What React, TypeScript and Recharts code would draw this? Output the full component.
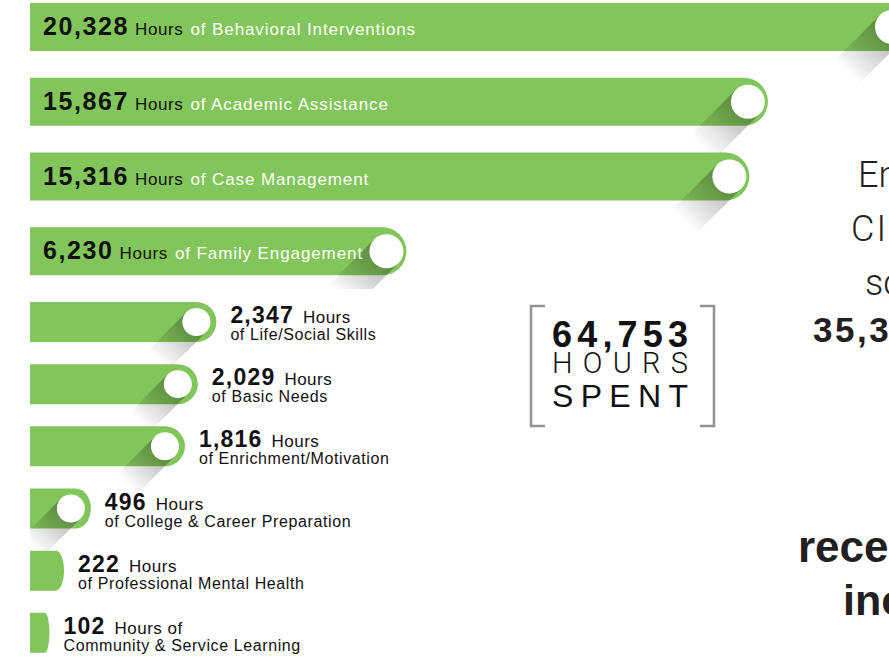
import React from 'react';
import { BarChart, Bar, XAxis, YAxis, LabelList } from 'recharts';

// Service categories and the hours spent on each
const categories = [
  'Behavioral Interventions',
  'Academic Assistance',
  'Case Management',
  'Family Engagement',
  'Life/Social Skills',
  'Basic Needs',
  'Enrichment/Motivation',
  'College & Career Preparation',
  'Professional Mental Health',
  'Community & Service Learning'
];
const hours = [20328, 15867, 15316, 6230, 2347, 2029, 1816, 496, 222, 102];
const unitText = ['Hours', 'Hours', 'Hours', 'Hours', 'Hours', 'Hours', 'Hours', 'Hours', 'Hours', 'Hours of'];

const data = categories.map((name, i) => ({ name, hours: hours[i], unit: unitText[i] }));
const topData = data.slice(0, 4); // labels sit inside these bars
const bottomData = data.slice(4); // labels sit to the right
const maxHours = Math.max(...hours);
const totalHours = hours.reduce((a, b) => a + b, 0);

const GREEN = '#82c55b';
const FONT = '"Liberation Sans", Arial, Helvetica, sans-serif';
const LIGHT = 'Roboto, "Liberation Sans", sans-serif';
const CHART_W = 912;
const LEFT = 30;

// power scale so the short bars stay visible (infographic style)
function powScale(exponent: number): any {
  let dom: number[] = [0, 1];
  let rng: number[] = [0, 1];
  const f = (v: number) => Math.sign(v) * Math.pow(Math.abs(v), exponent);
  const scale: any = (v: number) => {
    const a = f(dom[0]);
    const b = f(dom[dom.length - 1]);
    const t = b === a ? 0 : (f(v) - a) / (b - a);
    return rng[0] + t * (rng[rng.length - 1] - rng[0]);
  };
  scale.domain = (d?: any[]) => {
    if (d === undefined) return dom.slice();
    dom = d.map(Number);
    return scale;
  };
  scale.range = (r?: any[]) => {
    if (r === undefined) return rng.slice();
    rng = r.map(Number);
    return scale;
  };
  scale.copy = () => powScale(exponent).domain(dom).range(rng);
  scale.ticks = () => dom.slice();
  scale.tickFormat = () => (v: number) => String(v);
  return scale;
}
const hoursScale = powScale(0.72);

const boxOf = (props: any) => {
  const vb = props.viewBox || {};
  return {
    x: props.x ?? vb.x,
    y: props.y ?? vb.y,
    width: props.width ?? vb.width,
    height: props.height ?? vb.height
  };
};

const makePillBar = (prefix: string) => (props: any) => {
  const { x, y, width, height, index } = props;
  if (!width || width <= 0) return null;
  const r = height / 2;
  const rx = Math.min(r, width * 0.25);
  const right = x + width;
  const path = `M${x},${y} H${right - rx} A${rx},${r} 0 0 1 ${right - rx},${y + height} H${x} Z`;
  const hasKnob = width > height * 1.5;
  if (!hasKnob) return <path d={path} fill={GREEN} />;

  const kr = Math.round(height * 0.36);
  const cx = right - 20;
  const cy = y + r;
  const L = height * 1.35;
  const s = Math.SQRT1_2;
  const n = kr * s;
  const ex = -L * s;
  const ey = L * s;
  const poly = [
    [cx + n, cy + n],
    [cx + n + ex, cy + n + ey],
    [cx - n + ex, cy - n + ey],
    [cx - n, cy - n]
  ]
    .map((p) => p.join(','))
    .join(' ');
  const gid = `${prefix}-sh-${index}`;
  const cid = `${prefix}-cl-${index}`;
  return (
    <g>
      <defs>
        <linearGradient id={gid} gradientUnits="userSpaceOnUse" x1={cx} y1={cy} x2={cx + ex} y2={cy + ey}>
          <stop offset="0" stopColor="#000" stopOpacity={0.32} />
          <stop offset="1" stopColor="#000" stopOpacity={0} />
        </linearGradient>
        <clipPath id={cid}>
          <rect x={x} y={y} width={width + 20} height={height + L} />
        </clipPath>
      </defs>
      <path d={path} fill={GREEN} />
      <polygon points={poly} fill={`url(#${gid})`} clipPath={`url(#${cid})`} />
      <circle cx={cx} cy={cy} r={kr} fill="#fff" />
    </g>
  );
};

const findItem = (value: any) => data.find((d) => d.hours === Number(value)) || data[0];

const InsideLabel = (props: any) => {
  const { x, y, height } = boxOf(props);
  const item = findItem(props.value);
  return (
    <text x={x + 13} y={y + height / 2 + 8} fontFamily={FONT}>
      <tspan fontSize={25} fontWeight="bold" fill="#111" letterSpacing={1.6}>
        {item.hours.toLocaleString('en-US')}
      </tspan>
      <tspan dx={6} fontSize={17} fill="#111" letterSpacing={0.6}>
        {item.unit}
      </tspan>
      <tspan dx={7} fontSize={17} fill="#fff" letterSpacing={0.9}>
        {`of ${item.name}`}
      </tspan>
    </text>
  );
};

const SideLabel = (props: any) => {
  const { x, y, width, height } = boxOf(props);
  const item = findItem(props.value);
  const tx = x + width + 14;
  const cy = y + height / 2;
  const line2 = item.unit.endsWith('of') ? item.name : `of ${item.name}`;
  return (
    <text fontFamily={FONT} fill="#111">
      <tspan x={tx} y={cy + 1} fontSize={23} fontWeight="bold" letterSpacing={1.2}>
        {item.hours.toLocaleString('en-US')}
      </tspan>
      <tspan dx={9} fontSize={17} letterSpacing={0.5}>
        {item.unit}
      </tspan>
      <tspan x={tx} y={cy + 18} fontSize={16} letterSpacing={0.6}>
        {line2}
      </tspan>
    </text>
  );
};

const HoursChart = ({ rows, height, barSize, prefix, label }: any) => (
  <BarChart
    width={CHART_W}
    height={height}
    data={rows}
    layout="vertical"
    margin={{ top: 0, right: 0, bottom: 0, left: LEFT }}
  >
    <XAxis type="number" dataKey="hours" domain={[0, maxHours]} scale={hoursScale} hide />
    <YAxis type="category" dataKey="name" hide />
    <Bar dataKey="hours" barSize={barSize} shape={makePillBar(prefix)} isAnimationActive={false}>
      <LabelList dataKey="hours" content={label} />
    </Bar>
  </BarChart>
);

export default function App() {
  return (
    <div style={{ position: 'relative', width: 889, height: 658, overflow: 'hidden', background: '#fff' }}>
      <style>{'body{margin:0;overflow:hidden}'}</style>
      <div style={{ position: 'absolute', left: 0, top: -10 }}>
        <HoursChart rows={topData} height={299} barSize={48} prefix="top" label={InsideLabel} />
      </div>
      <div style={{ position: 'absolute', left: 0, top: 291 }}>
        <HoursChart rows={bottomData} height={373} barSize={40} prefix="bot" label={SideLabel} />
      </div>
      <svg width={889} height={658} style={{ position: 'absolute', left: 0, top: 0, pointerEvents: 'none' }}>
        <path d="M545,306 H531 V426 H545" stroke="#939393" strokeWidth={2.6} fill="none" />
        <path d="M700,306 H714 V426 H700" stroke="#939393" strokeWidth={2.6} fill="none" />
        <text x={552} y={347} fontFamily={FONT} fontSize={36} fontWeight="bold" fill="#111" textLength={136} lengthAdjust="spacing">
          {totalHours.toLocaleString('en-US')}
        </text>
        <text x={552} y={373} fontFamily={LIGHT} fontSize={29} fontWeight={300} fill="#111" textLength={136} lengthAdjust="spacing">
          HOURS
        </text>
        <text x={552} y={407} fontFamily={FONT} fontSize={32} fill="#111" textLength={136} lengthAdjust="spacing">
          SPENT
        </text>

        <g fill="#231f20">
          <text x={858} y={187} fontFamily={LIGHT} fontWeight={300} fontSize={36}>Enrolled</text>
          <text x={851} y={241} fontFamily={LIGHT} fontWeight={300} fontSize={36} letterSpacing={2}>CIS</text>
          <text x={865} y={295} fontFamily={LIGHT} fontWeight={300} fontSize={36}>school</text>
          <text x={813} y={342} fontFamily={FONT} fontWeight="bold" fontSize={35} letterSpacing={2.5}>35,3</text>
          <text x={798} y={562} fontFamily={FONT} fontWeight="bold" fontSize={44}>received</text>
          <text x={843} y={615} fontFamily={FONT} fontWeight="bold" fontSize={43}>including</text>
        </g>
      </svg>
    </div>
  );
}
